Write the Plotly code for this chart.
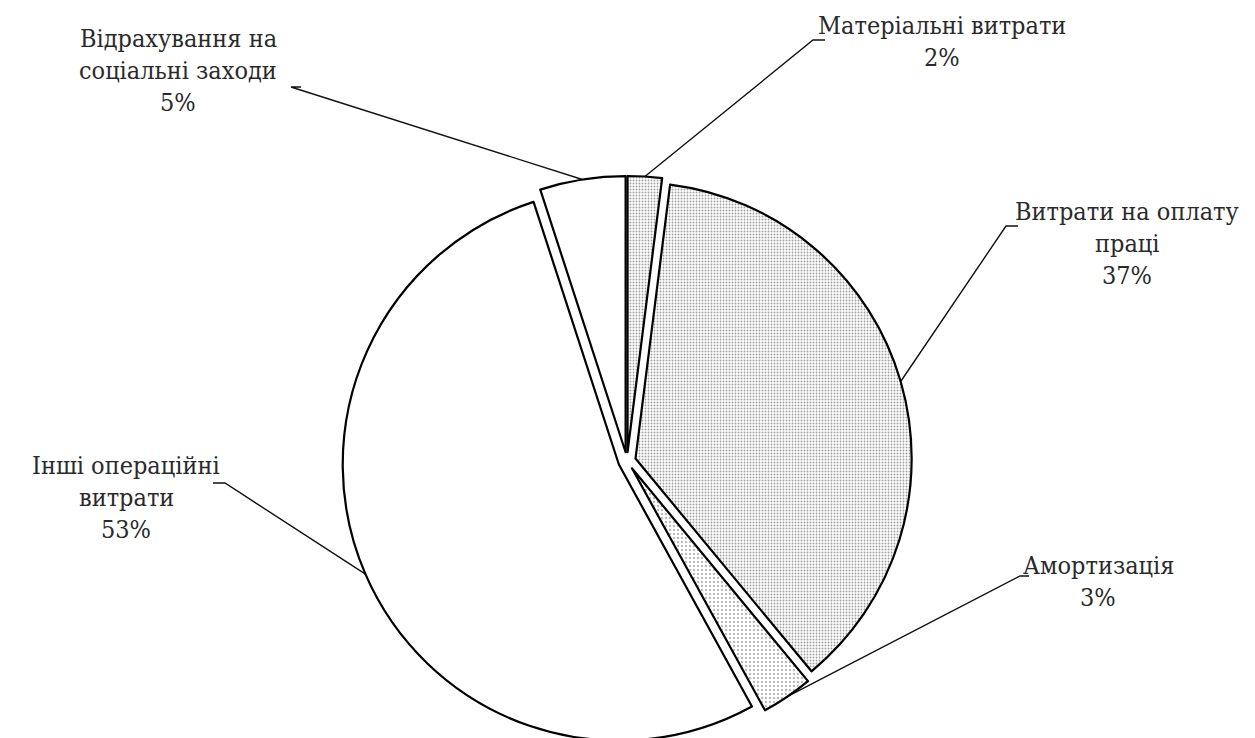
import numpy as np
import plotly.graph_objects as go

# ---- data ----
categories = ["Матеріальні витрати", "Витрати на оплату праці", "Амортизація",
              "Інші операційні витрати", "Відрахування на соціальні заходи"]
values = [2, 37, 3, 53, 5]
label_lines = [["Матеріальні витрати"], ["Витрати на оплату", "праці"], ["Амортизація"],
               ["Інші операційні", "витрати"], ["Відрахування на", "соціальні заходи"]]

# ---- layout / style ----
W, H = 1255, 738
CX = 619
TOP = 168
box_h = H - TOP
pulls = [0.032, 0.032, 0.032, 0.032, 0.032]
shapes_pat = [".", ".", ".", "", ""]
pat_sizes = [3, 3, 4, 3, 3]
pat_solid = [0.3, 0.3, 0.18, 0.3, 0.3]
FONT = "DejaVu Serif Condensed, DejaVu Serif"
FS = 25
LINE_H = 32
TXT = "#2a2a2a"

# label centres and leader-line text ends (pixels)
label_pos = [(934, 33), (1119, 235), (1090, 573), (118, 489), (170, 62)]
leader_ends = [[(805, 32), (817, 32)], [(998, 218), (1010, 218)], [(1012, 568), (1021, 568)],
               [(217, 475), (205, 475)], [(283, 79), (293, 79)]]

fig = go.Figure()
fig.add_trace(go.Pie(
    labels=categories, values=values, sort=False, direction="clockwise", rotation=0,
    pull=pulls, textinfo="none", hoverinfo="label+percent", showlegend=False,
    marker=dict(colors=["white"] * 5, line=dict(color="black", width=2.2),
                pattern=dict(shape=shapes_pat, fgcolor="#a0a0a0", bgcolor="white",
                             size=pat_sizes, solidity=pat_solid)),
    domain=dict(x=[(CX - box_h / 2) / W, (CX + box_h / 2) / W], y=[0, 1 - TOP / H]),
))

# geometry of the pie as plotly computes it
cy = H - box_h / 2
r = (box_h / 2) / (1 + max(pulls))
vals = np.array(values, dtype=float)
cum = np.cumsum(vals) / vals.sum()
start = np.concatenate([[0], cum[:-1]])
mid = (start + cum) / 2 * 2 * np.pi

for i in range(len(values)):
    th = mid[i]
    pr = r * (1 + pulls[i])
    ax_ = CX + pr * np.sin(th)
    ay_ = cy - pr * np.cos(th)
    pts = [(ax_, ay_)] + leader_ends[i]
    fig.add_trace(go.Scatter(x=[p[0] for p in pts], y=[p[1] for p in pts], mode="lines",
                             line=dict(color="#111", width=1.4), hoverinfo="skip",
                             showlegend=False))
    lines = label_lines[i] + [f"{values[i]}%"]
    n = len(lines)
    for k, txt in enumerate(lines):
        fig.add_annotation(x=label_pos[i][0], y=label_pos[i][1] + (k - (n - 1) / 2) * LINE_H,
                           xref="x", yref="y", text=txt, showarrow=False,
                           xanchor="center", yanchor="middle", align="center",
                           font=dict(family=FONT, size=FS, color=TXT))

fig.update_layout(
    width=W, height=H, margin=dict(l=0, r=0, t=0, b=0),
    paper_bgcolor="white", plot_bgcolor="rgba(0,0,0,0)",
    font=dict(family=FONT),
    xaxis=dict(range=[0, W], visible=False, domain=[0, 1], fixedrange=True),
    yaxis=dict(range=[H, 0], visible=False, domain=[0, 1], fixedrange=True),
)

fig.write_html("out.html")
